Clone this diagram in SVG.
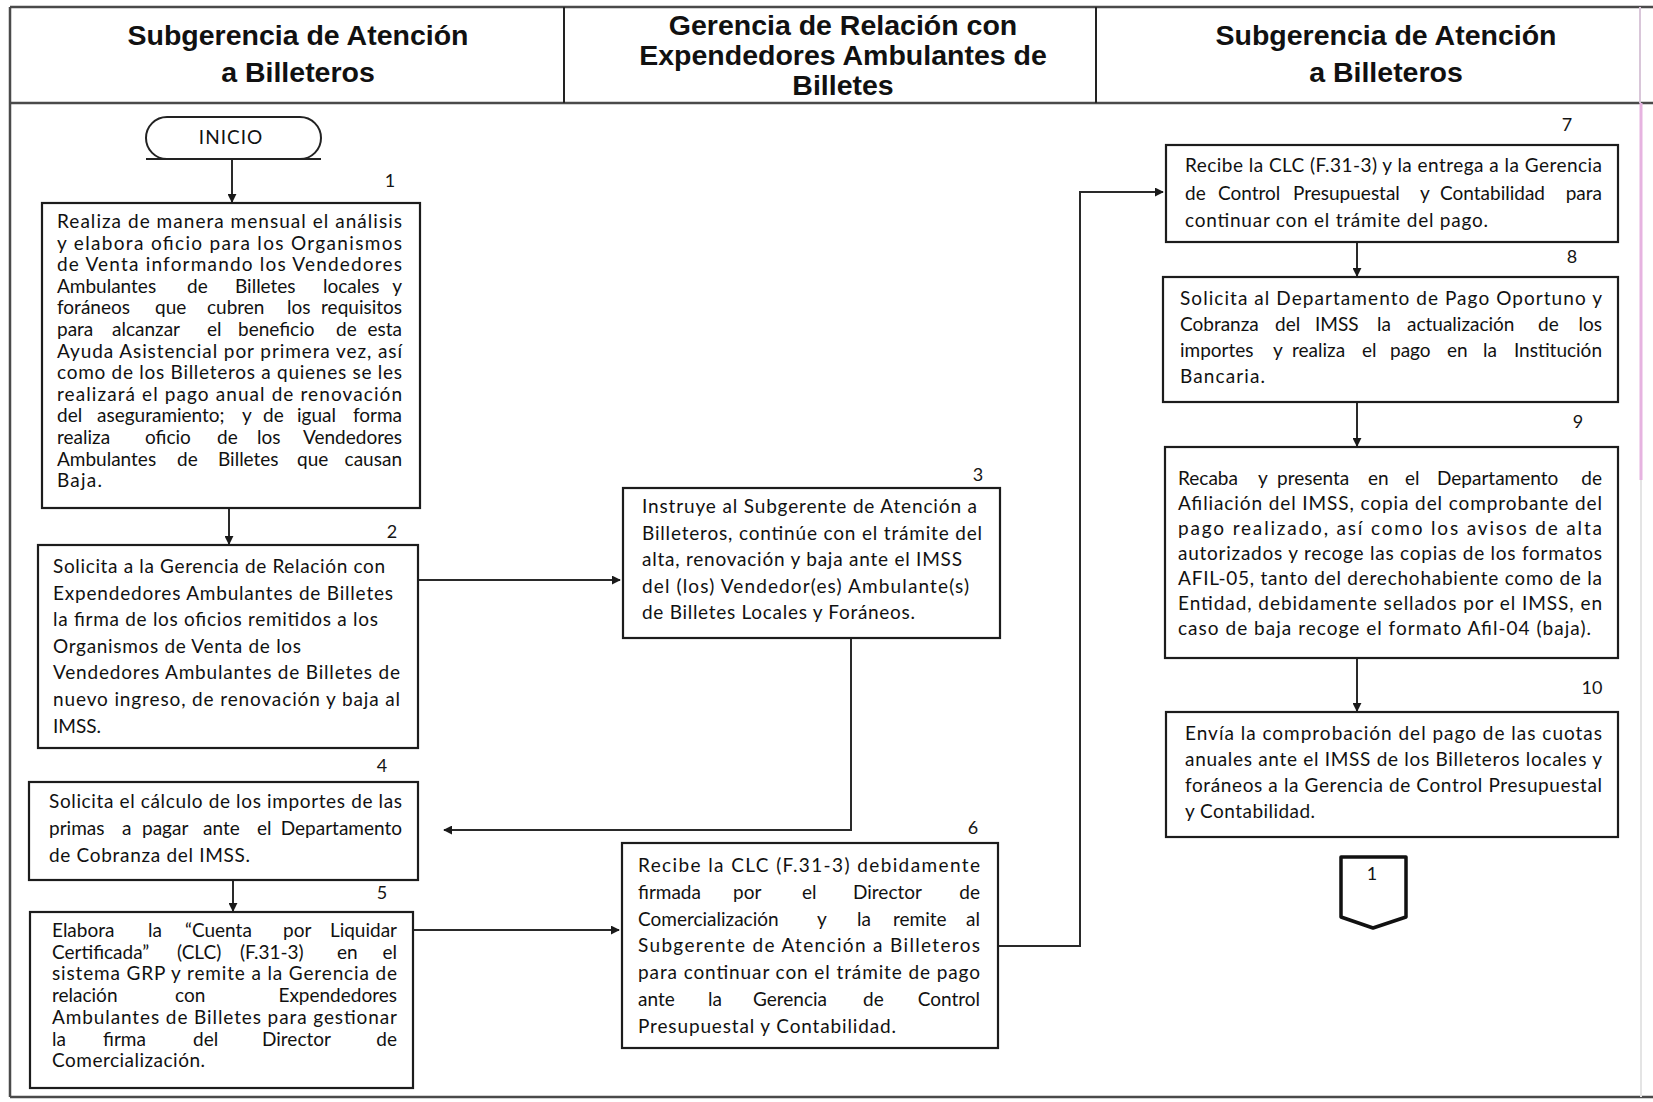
<svg xmlns="http://www.w3.org/2000/svg" width="1653" height="1102" viewBox="0 0 1653 1102">
  <style>
    .hd{font-family:"Liberation Sans",Arial,sans-serif;font-weight:bold;font-size:28.5px;text-anchor:middle;fill:#111}
    .tx{font-family:Lato,"Open Sans",sans-serif;font-size:19px;fill:#111}
    .e{text-anchor:end}
    .num{font-family:Lato,"Open Sans",sans-serif;font-size:18px;text-anchor:middle;fill:#151515}
    .box{fill:#fff;stroke:#1c1c1c;stroke-width:2.2}
    .frame{fill:none;stroke:#4a4a4a;stroke-width:2.5}
    .cn{fill:none;stroke:#2a2a2a;stroke-width:2;marker-end:url(#ah)}
  </style>
  <defs>
    <marker id="ah" viewBox="0 0 10 10" refX="9" refY="5" markerWidth="9" markerHeight="9" markerUnits="userSpaceOnUse" orient="auto">
      <path d="M0,0 L10,5 L0,10 z" fill="#1a1a1a"/>
    </marker>
  </defs>
  <rect width="1653" height="1102" fill="#fff"/>

  <!-- swimlane frame and header -->
  <g id="frame">
    <line class="frame" x1="10" y1="7" x2="1653" y2="7"/>
    <line class="frame" x1="10" y1="103" x2="1653" y2="103"/>
    <line class="frame" x1="10" y1="7" x2="10" y2="1097"/>
    <line class="frame" x1="10" y1="1097" x2="1653" y2="1097"/>
    <line x1="564" y1="7" x2="564" y2="103" stroke="#222" stroke-width="2"/>
    <line x1="1096" y1="7" x2="1096" y2="103" stroke="#222" stroke-width="2"/>
    <line x1="1640" y1="7" x2="1640" y2="103" stroke="#d9c6d9" stroke-width="2"/>
    <line x1="1641" y1="103" x2="1641" y2="480" stroke="#e6b3e0" stroke-width="3"/>
    <line x1="1641" y1="480" x2="1641" y2="1097" stroke="#e4e4e4" stroke-width="2"/>
  </g>
  <g id="lane-headers">
    <text class="hd" x="298" y="45">Subgerencia de Atención</text>
    <text class="hd" x="298" y="82">a Billeteros</text>
    <text class="hd" x="843" y="35">Gerencia de Relación con</text>
    <text class="hd" x="843" y="65">Expendedores Ambulantes de</text>
    <text class="hd" x="843" y="95">Billetes</text>
    <text class="hd" x="1386" y="45">Subgerencia de Atención</text>
    <text class="hd" x="1386" y="82">a Billeteros</text>
  </g>

  <!-- connectors -->
  <g id="connectors">
    <line class="cn" x1="232" y1="159" x2="232" y2="202"/>
    <line class="cn" x1="229" y1="508" x2="229" y2="544"/>
    <line class="cn" x1="418" y1="580" x2="620" y2="580"/>
    <path class="cn" d="M851 638 V830 H444"/>
    <line class="cn" x1="233" y1="880" x2="233" y2="911"/>
    <line class="cn" x1="413" y1="930" x2="619" y2="930"/>
    <path class="cn" d="M998 946 H1080 V192 H1163"/>
    <line class="cn" x1="1357" y1="242" x2="1357" y2="276"/>
    <line class="cn" x1="1357" y1="402" x2="1357" y2="446"/>
    <line class="cn" x1="1357" y1="658" x2="1357" y2="711"/>
  </g>

  <!-- start terminator -->
  <g id="inicio">
    <rect x="146" y="117" width="175" height="42" rx="21" ry="21" fill="#fff" stroke="#222" stroke-width="2"/>
    <line x1="146" y1="159" x2="321" y2="159" stroke="#222" stroke-width="2.2"/>
    <text class="tx" x="231" y="144" text-anchor="middle" letter-spacing="1" font-size="17">INICIO</text>
  </g>

  <!-- step 1 -->
  <g id="step1">
    <rect class="box" x="42" y="203" width="378" height="305"/>
    <text class="num" x="390" y="187">1</text>
    <text class="tx" x="57" y="228" textLength="345" lengthAdjust="spacing">Realiza de manera mensual el análisis</text>
    <text class="tx" x="57" y="249.6" textLength="345" lengthAdjust="spacing">y elabora oficio para los Organismos</text>
    <text class="tx" x="57" y="271.2" textLength="345" lengthAdjust="spacing">de Venta informando los Vendedores</text>
    <text class="tx" y="292.8"><tspan x="57">Ambulantes</tspan><tspan x="187">de</tspan><tspan x="235">Billetes</tspan><tspan x="323">locales</tspan><tspan class="e" x="402">y</tspan></text>
    <text class="tx" y="314.4"><tspan x="57">foráneos</tspan><tspan x="155">que</tspan><tspan x="207">cubren</tspan><tspan x="287">los</tspan><tspan class="e" x="402">requisitos</tspan></text>
    <text class="tx" y="336"><tspan x="57">para</tspan><tspan x="112">alcanzar</tspan><tspan x="207">el</tspan><tspan x="238">beneficio</tspan><tspan x="336">de</tspan><tspan class="e" x="402">esta</tspan></text>
    <text class="tx" x="57" y="357.6" textLength="345" lengthAdjust="spacing">Ayuda Asistencial por primera vez, así</text>
    <text class="tx" x="57" y="379.2" textLength="345" lengthAdjust="spacing">como de los Billeteros a quienes se les</text>
    <text class="tx" x="57" y="400.8" textLength="345" lengthAdjust="spacing">realizará el pago anual de renovación</text>
    <text class="tx" y="422.4"><tspan x="57">del</tspan><tspan x="97">aseguramiento;</tspan><tspan x="242">y</tspan><tspan x="263">de</tspan><tspan x="297">igual</tspan><tspan class="e" x="402">forma</tspan></text>
    <text class="tx" y="444"><tspan x="57">realiza</tspan><tspan x="145">oficio</tspan><tspan x="217">de</tspan><tspan x="257">los</tspan><tspan class="e" x="402">Vendedores</tspan></text>
    <text class="tx" y="465.6"><tspan x="57">Ambulantes</tspan><tspan x="177">de</tspan><tspan x="218">Billetes</tspan><tspan x="297">que</tspan><tspan class="e" x="402">causan</tspan></text>
    <text class="tx" x="57" y="487.2" textLength="45" lengthAdjust="spacing">Baja.</text>
  </g>

  <!-- step 2 -->
  <g id="step2">
    <rect class="box" x="38" y="545" width="380" height="203"/>
    <text class="num" x="392" y="538">2</text>
    <text class="tx" x="53" y="573" textLength="332" lengthAdjust="spacing">Solicita a la Gerencia de Relación con</text>
    <text class="tx" x="53" y="599.6" textLength="340" lengthAdjust="spacing">Expendedores Ambulantes de Billetes</text>
    <text class="tx" x="53" y="626.2" textLength="325" lengthAdjust="spacing">la firma de los oficios remitidos a los</text>
    <text class="tx" x="53" y="652.8" textLength="248" lengthAdjust="spacing">Organismos de Venta de los</text>
    <text class="tx" x="53" y="679.4" textLength="347" lengthAdjust="spacing">Vendedores Ambulantes de Billetes de</text>
    <text class="tx" x="53" y="706" textLength="347" lengthAdjust="spacing">nuevo ingreso, de renovación y baja al</text>
    <text class="tx" x="53" y="732.6" textLength="48" lengthAdjust="spacing">IMSS.</text>
  </g>

  <!-- step 3 -->
  <g id="step3">
    <rect class="box" x="623" y="488" width="377" height="150"/>
    <text class="num" x="978" y="481">3</text>
    <text class="tx" x="642" y="513" textLength="335" lengthAdjust="spacing">Instruye al Subgerente de Atención a</text>
    <text class="tx" x="642" y="539.5" textLength="340" lengthAdjust="spacing">Billeteros, continúe con el trámite del</text>
    <text class="tx" x="642" y="566" textLength="320" lengthAdjust="spacing">alta, renovación y baja ante el IMSS</text>
    <text class="tx" x="642" y="592.5" textLength="327" lengthAdjust="spacing">del (los) Vendedor(es) Ambulante(s)</text>
    <text class="tx" x="642" y="619" textLength="273" lengthAdjust="spacing">de Billetes Locales y Foráneos.</text>
  </g>

  <!-- step 4 -->
  <g id="step4">
    <rect class="box" x="29" y="782" width="389" height="98"/>
    <text class="num" x="382" y="772">4</text>
    <text class="tx" x="49" y="808" textLength="353" lengthAdjust="spacing">Solicita el cálculo de los importes de las</text>
    <text class="tx" y="835"><tspan x="49">primas</tspan><tspan x="122">a</tspan><tspan x="142">pagar</tspan><tspan x="203">ante</tspan><tspan x="257">el</tspan><tspan class="e" x="402">Departamento</tspan></text>
    <text class="tx" x="49" y="862" textLength="201" lengthAdjust="spacing">de Cobranza del IMSS.</text>
  </g>

  <!-- step 5 -->
  <g id="step5">
    <rect class="box" x="30" y="912" width="383" height="176"/>
    <text class="num" x="382" y="899">5</text>
    <text class="tx" y="937"><tspan x="52">Elabora</tspan><tspan x="148">la</tspan><tspan x="185">“Cuenta</tspan><tspan x="283">por</tspan><tspan class="e" x="397">Liquidar</tspan></text>
    <text class="tx" y="958.7"><tspan x="52">Certificada”</tspan><tspan x="177">(CLC)</tspan><tspan x="240">(F.31-3)</tspan><tspan x="337">en</tspan><tspan class="e" x="397">el</tspan></text>
    <text class="tx" x="52" y="980.4" textLength="345" lengthAdjust="spacing">sistema GRP y remite a la Gerencia de</text>
    <text class="tx" y="1002.1"><tspan x="52">relación</tspan><tspan x="175">con</tspan><tspan class="e" x="397">Expendedores</tspan></text>
    <text class="tx" x="52" y="1023.8" textLength="345" lengthAdjust="spacing">Ambulantes de Billetes para gestionar</text>
    <text class="tx" y="1045.5"><tspan x="52">la</tspan><tspan x="103">firma</tspan><tspan x="193">del</tspan><tspan x="262">Director</tspan><tspan class="e" x="397">de</tspan></text>
    <text class="tx" x="52" y="1067.2" textLength="153" lengthAdjust="spacing">Comercialización.</text>
  </g>

  <!-- step 6 -->
  <g id="step6">
    <rect class="box" x="622" y="843" width="376" height="205"/>
    <text class="num" x="973" y="834">6</text>
    <text class="tx" x="638" y="872" textLength="342" lengthAdjust="spacing">Recibe la CLC (F.31-3) debidamente</text>
    <text class="tx" y="898.8"><tspan x="638">firmada</tspan><tspan x="733">por</tspan><tspan x="802">el</tspan><tspan x="853">Director</tspan><tspan class="e" x="980">de</tspan></text>
    <text class="tx" y="925.6"><tspan x="638">Comercialización</tspan><tspan x="817">y</tspan><tspan x="857">la</tspan><tspan x="893">remite</tspan><tspan class="e" x="980">al</tspan></text>
    <text class="tx" x="638" y="952.4" textLength="342" lengthAdjust="spacing">Subgerente de Atención a Billeteros</text>
    <text class="tx" x="638" y="979.2" textLength="342" lengthAdjust="spacing">para continuar con el trámite de pago</text>
    <text class="tx" y="1006"><tspan x="638">ante</tspan><tspan x="708">la</tspan><tspan x="753">Gerencia</tspan><tspan x="863">de</tspan><tspan class="e" x="980">Control</tspan></text>
    <text class="tx" x="638" y="1032.8" textLength="258" lengthAdjust="spacing">Presupuestal y Contabilidad.</text>
  </g>

  <!-- step 7 -->
  <g id="step7">
    <rect class="box" x="1166" y="145" width="452" height="97"/>
    <text class="num" x="1567" y="131">7</text>
    <text class="tx" x="1185" y="172" textLength="417" lengthAdjust="spacing">Recibe la CLC (F.31-3) y la entrega a la Gerencia</text>
    <text class="tx" y="199.5"><tspan x="1185">de</tspan><tspan x="1218">Control</tspan><tspan x="1293">Presupuestal</tspan><tspan x="1420">y</tspan><tspan x="1440">Contabilidad</tspan><tspan class="e" x="1602">para</tspan></text>
    <text class="tx" x="1185" y="227" textLength="303" lengthAdjust="spacing">continuar con el trámite del pago.</text>
  </g>

  <!-- step 8 -->
  <g id="step8">
    <rect class="box" x="1163" y="277" width="455" height="125"/>
    <text class="num" x="1572" y="263">8</text>
    <text class="tx" x="1180" y="305" textLength="422" lengthAdjust="spacing">Solicita al Departamento de Pago Oportuno y</text>
    <text class="tx" y="331"><tspan x="1180">Cobranza</tspan><tspan x="1275">del</tspan><tspan x="1315">IMSS</tspan><tspan x="1377">la</tspan><tspan x="1407">actualización</tspan><tspan x="1538">de</tspan><tspan class="e" x="1602">los</tspan></text>
    <text class="tx" y="357"><tspan x="1180">importes</tspan><tspan x="1273">y</tspan><tspan x="1292">realiza</tspan><tspan x="1362">el</tspan><tspan x="1390">pago</tspan><tspan x="1447">en</tspan><tspan x="1483">la</tspan><tspan class="e" x="1602">Institución</tspan></text>
    <text class="tx" x="1180" y="383" textLength="85" lengthAdjust="spacing">Bancaria.</text>
  </g>

  <!-- step 9 -->
  <g id="step9">
    <rect class="box" x="1165" y="447" width="453" height="211"/>
    <text class="num" x="1578" y="428">9</text>
    <text class="tx" y="485"><tspan x="1178">Recaba</tspan><tspan x="1258">y</tspan><tspan x="1277">presenta</tspan><tspan x="1368">en</tspan><tspan x="1405">el</tspan><tspan x="1437">Departamento</tspan><tspan class="e" x="1602">de</tspan></text>
    <text class="tx" x="1178" y="510" textLength="424" lengthAdjust="spacing">Afiliación del IMSS, copia del comprobante del</text>
    <text class="tx" x="1178" y="535" textLength="424" lengthAdjust="spacing">pago realizado, así como los avisos de alta</text>
    <text class="tx" x="1178" y="560" textLength="424" lengthAdjust="spacing">autorizados y recoge las copias de los formatos</text>
    <text class="tx" x="1178" y="585" textLength="424" lengthAdjust="spacing">AFIL-05, tanto del derechohabiente como de la</text>
    <text class="tx" x="1178" y="610" textLength="424" lengthAdjust="spacing">Entidad, debidamente sellados por el IMSS, en</text>
    <text class="tx" x="1178" y="635" textLength="413" lengthAdjust="spacing">caso de baja recoge el formato Afil-04 (baja).</text>
  </g>

  <!-- step 10 -->
  <g id="step10">
    <rect class="box" x="1166" y="712" width="452" height="125"/>
    <text class="num" x="1592" y="694">10</text>
    <text class="tx" x="1185" y="740" textLength="417" lengthAdjust="spacing">Envía la comprobación del pago de las cuotas</text>
    <text class="tx" x="1185" y="766" textLength="417" lengthAdjust="spacing">anuales ante el IMSS de los Billeteros locales y</text>
    <text class="tx" x="1185" y="792" textLength="417" lengthAdjust="spacing">foráneos a la Gerencia de Control Presupuestal</text>
    <text class="tx" x="1185" y="818" textLength="130" lengthAdjust="spacing">y Contabilidad.</text>
  </g>

  <!-- off-page connector -->
  <g id="offpage">
    <path d="M1341 857 H1406 V917 L1373 928 L1341 917 Z" fill="#fff" stroke="#111" stroke-width="3.5" stroke-linejoin="round"/>
    <text class="num" x="1372" y="880" font-size="11">1</text>
  </g>
</svg>
